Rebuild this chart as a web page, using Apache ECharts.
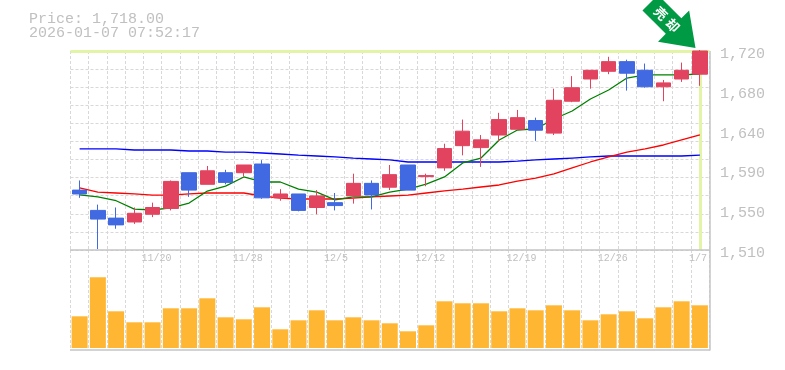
<!DOCTYPE html>
<html><head><meta charset="utf-8">
<style>html,body{margin:0;padding:0;background:#fff}#c{width:785px;height:370px}</style>
<script src="https://cdn.jsdelivr.net/npm/echarts@6/dist/echarts.min.js"></script>
</head><body><div id="c"></div>
<script>
const categories = ['11/14','11/17','11/18','11/19','11/20','11/21','11/25','11/26','11/27','11/28','12/1','12/2','12/3','12/4','12/5','12/8','12/9','12/10','12/11','12/12','12/15','12/16','12/17','12/18','12/19','12/22','12/23','12/24','12/25','12/26','12/29','12/30','1/5','1/6','1/7'];
const labelledDates = ['11/20','11/28','12/5','12/12','12/19','12/26','1/7'];
// open, close, low, high
const candles = [
[1574,1570,1566,1584],[1553,1544,1513,1559],[1545,1538,1534,1556],[1541,1550,1539,1556],[1549,1556,1546,1561],
[1555,1583,1553,1584],[1592,1574,1567,1592],[1580,1594,1580,1599],[1592,1582,1580,1595],[1592,1600,1588,1600],
[1601,1566,1565,1605],[1566,1570,1563,1575],[1570,1553,1552,1570],[1556,1568,1549,1574],[1561,1558,1553,1571],
[1568,1581,1560,1591],[1581,1569,1554,1584],[1577,1590,1574,1600],[1600,1574,1574,1600],[1588,1589,1578,1591],
[1597,1617,1594,1622],[1620,1635,1610,1647],[1618,1626,1598,1631],[1631,1647,1624,1654],[1637,1649,1637,1657],
[1646,1636,1625,1649],[1633,1667,1631,1679],[1666,1680,1665,1692],[1689,1698,1679,1698],[1697,1707,1694,1712],
[1707,1695,1677,1709],[1698,1681,1680,1705],[1681,1685,1666,1688],[1689,1698,1686,1706],[1694,1718,1682,1719]];
const maGreen = [1569,1567,1563,1554.4,1553.4,1555.5,1560.6,1573,1578.2,1587.6,1582.4,1582.4,1575.1,1572,1563.8,1566.9,1566.9,1572,1575.1,1580.3,1587.6,1602.1,1607.2,1625.9,1636.2,1637.3,1647.6,1655.9,1668.3,1677.6,1690,1693.2,1693.2,1693.2,1694.2];
const maRed = [1576.2,1572,1571,1570,1568.9,1568.9,1570,1571,1571,1571,1567.9,1565.8,1564.8,1564.8,1564.8,1565.8,1566.9,1567.9,1568.9,1571,1573.1,1575.1,1577.2,1579.3,1583.4,1586.5,1590.7,1596.9,1603.1,1608.3,1613.4,1616.6,1620.7,1625.9,1631.1];
const maBlue = [1616.6,1616.6,1616.6,1615.5,1615.5,1615.5,1614.5,1614.5,1613.4,1613.4,1612.4,1611.4,1610.3,1609.3,1608.3,1607.2,1606.2,1605.2,1603.1,1603.1,1603.1,1603.1,1603.1,1603.1,1604.1,1605.2,1606.2,1607.2,1608.3,1609.3,1609.3,1609.3,1609.3,1609.3,1610.3];
const volumes = [31.7,70.7,36.7,25.7,25.7,39.7,39.7,49.7,30.7,28.7,40.7,18.7,27.7,37.7,27.7,30.7,27.7,24.7,16.7,22.7,46.7,44.7,44.7,36.7,39.7,37.7,42.7,37.7,27.7,33.7,36.7,29.7,40.7,46.7,42.7];
const priceTicks = [1512,1553.2,1594.4,1635.6,1676.8,1718];
const priceTickLabels = ['1,510','1,550','1,590','1,640','1,680','1,720'];
const priceGrid = [1512,1530.7,1549.5,1568.2,1586.9,1605.6,1624.4,1643.1,1661.8,1680.5,1699.3,1718];
const lastPrice = 1718;
const lastDate = '1/7';
const titleLines = ['Price: 1,718.00','2026-01-07 07:52:17'];
const arrowText = '\u58f2\u5374';

const MONO = '"Liberation Mono","DejaVu Sans Mono",monospace';
const GRAY = '#c0c0c0', GRID = '#d8d8d8', FRAME = '#c4c4c4', BAND = '#e2f4a5';
const splitLine = {show:true, lineStyle:{color:GRID,type:[3,2],width:1}};
const glyph = (ch,y)=>({type:'text',x:0,y:y,rotation:-Math.PI/2,
  style:{text:ch,font:'bold 13px "Noto Sans CJK JP"',fill:'#fff',align:'center',verticalAlign:'middle'}});
const frameLine = (x1,y1,x2,y2,w,c)=>({type:'line',z:50,silent:true,shape:{x1,y1,x2,y2},style:{stroke:c||FRAME,lineWidth:w}});
const chart = echarts.init(document.getElementById('c'),null,{renderer:'canvas'});
chart.setOption({
  animation:false,
  graphic:[
    {type:'text',left:29,top:12,silent:true,style:{text:titleLines[0],font:'15px '+MONO,fill:GRAY}},
    {type:'text',left:29,top:26,silent:true,style:{text:titleLines[1],font:'15px '+MONO,fill:GRAY}},
    frameLine(70,250,710,250,1.5),
    frameLine(70,350,710,350,1.5),
    frameLine(710,51,710,350.5,1.5),
    frameLine(708,51.5,709.5,51.5,3,BAND),
    {type:'group',x:695.5,y:48,rotation:Math.PI/4,z:100,children:[
      {type:'polygon',shape:{points:[[0,0],[-22,-31],[-11,-31],[-11,-64],[11,-64],[11,-31],[22,-31]]},style:{fill:'#009944'}},
      glyph(arrowText[0],-49),
      glyph(arrowText[1],-32)
    ]}
  ],
  grid:[
    {left:70.5,width:638.5,top:51,height:199,show:false},
    {left:70.5,width:638.5,top:250,height:100,show:false}
  ],
  xAxis:[
    {type:'category',gridIndex:0,data:categories,boundaryGap:true,
     axisLine:{show:false,onZero:false},axisTick:{show:false},
     axisLabel:{show:true,interval:0,margin:3,fontFamily:MONO,fontSize:10,color:GRAY,padding:[0,0,0,8],
       formatter:v=>labelledDates.includes(v)?v.padEnd(5,' '):''},
     splitLine:{...splitLine,interval:0}},
    {type:'category',gridIndex:1,data:categories,boundaryGap:true,
     axisLine:{show:false,onZero:false},axisTick:{show:false},axisLabel:{show:false},
     splitLine:{...splitLine,interval:0}}
  ],
  yAxis:[
    {type:'value',gridIndex:0,position:'right',min:1512,max:1718,
     axisLine:{show:false},
     axisTick:{show:false,customValues:priceGrid},
     axisLabel:{show:true,margin:11,fontFamily:MONO,fontSize:15,color:GRAY,verticalAlign:'top',lineHeight:6,
       customValues:priceTicks,formatter:v=>priceTickLabels[priceTicks.indexOf(v)]||''},
     splitLine:splitLine},
    {type:'value',gridIndex:1,position:'right',min:-2,max:98,
     axisLine:{show:false},axisTick:{show:false},axisLabel:{show:false},splitLine:{show:false}}
  ],
  series:[
    {type:'line',xAxisIndex:0,yAxisIndex:0,data:[],z:1,silent:true,
     markLine:{silent:true,symbol:'none',z:1,label:{show:false},animation:false,
       lineStyle:{color:BAND,width:3,type:'solid'},
       data:[{yAxis:lastPrice},{xAxis:lastDate}]}},
    {type:'line',xAxisIndex:0,yAxisIndex:0,data:maBlue,showSymbol:false,z:1,lineStyle:{color:'#0000ff',width:1.3}},
    {type:'line',xAxisIndex:0,yAxisIndex:0,data:maRed,showSymbol:false,z:1,lineStyle:{color:'#ff0000',width:1.3}},
    {type:'line',xAxisIndex:0,yAxisIndex:0,data:maGreen,showSymbol:false,z:1,lineStyle:{color:'#008000',width:1.3}},
    {type:'candlestick',xAxisIndex:0,yAxisIndex:0,data:candles,barWidth:15,clip:false,z:2,
     itemStyle:{color:'#e2445f',color0:'#4169e1',borderColor:'#e2445f',borderColor0:'#4169e1',borderWidth:1}},
    {type:'bar',xAxisIndex:1,yAxisIndex:1,data:volumes,barWidth:16,itemStyle:{color:'#ffb733'}}
  ]
});
</script></body></html>
